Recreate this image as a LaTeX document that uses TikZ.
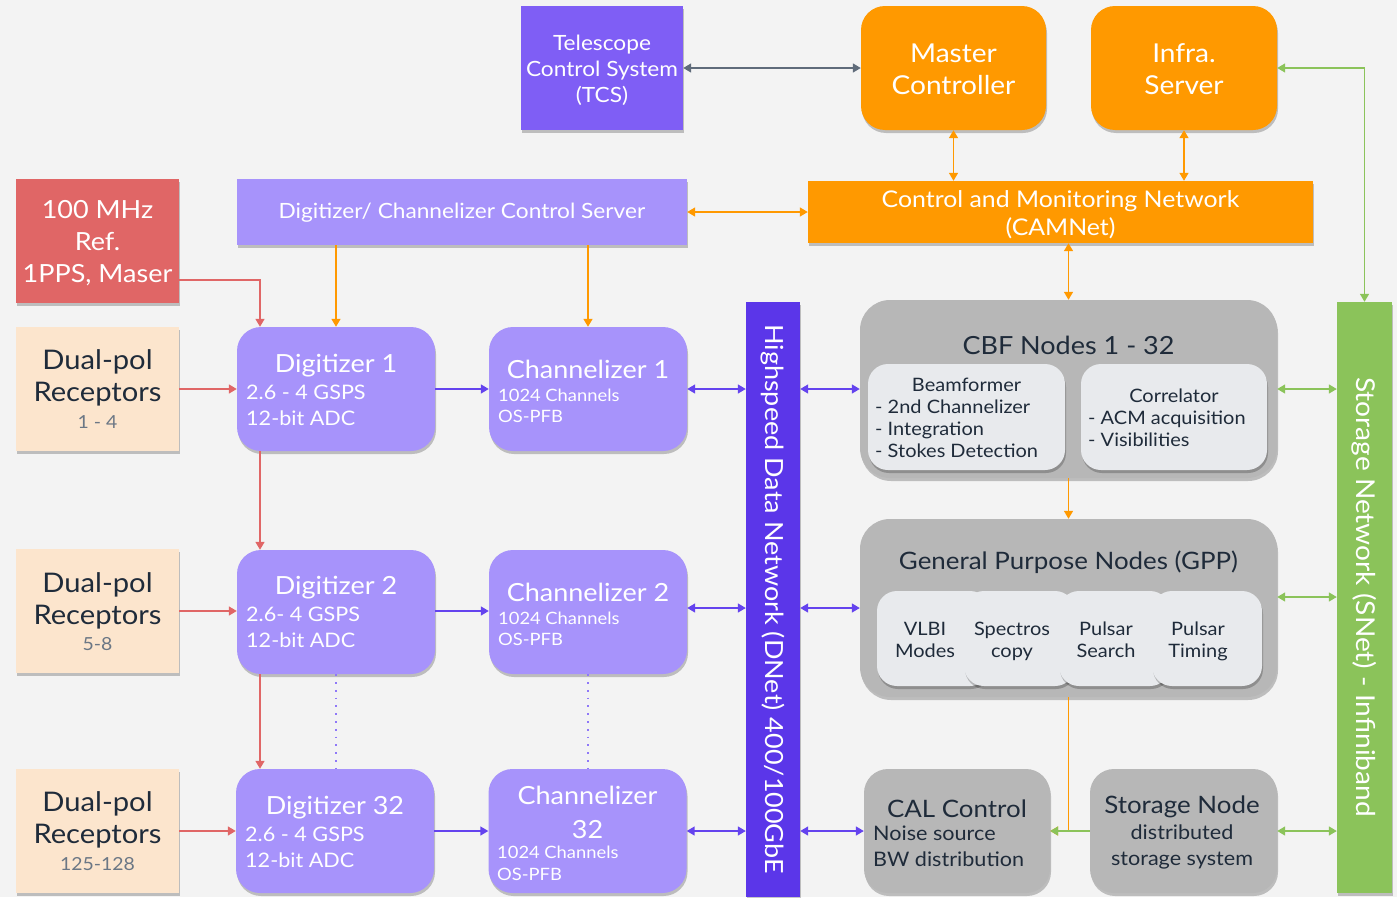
\documentclass[tikz,border=0pt]{standalone}
\usepackage{fontspec}
\setmainfont{Lato}[FakeStretch=1.08]
\usetikzlibrary{arrows.meta,shadows}
\newcommand{\fsz}[2]{\fontsize{#1}{#2}\selectfont}
\definecolor{bgc}{HTML}{F3F3F3}
\definecolor{tcsc}{HTML}{7F5EF5}
\definecolor{lpur}{HTML}{A793FB}
\definecolor{dnetc}{HTML}{5B36E9}
\definecolor{orng}{HTML}{FF9900}
\definecolor{redc}{HTML}{E06666}
\definecolor{peach}{HTML}{FCE5CD}
\definecolor{grayc}{HTML}{B7B7B7}
\definecolor{inner}{HTML}{E8EAED}
\definecolor{grn}{HTML}{8BC35A}
\definecolor{dtext}{HTML}{1F2B3A}
\definecolor{ntext}{HTML}{6B7785}
\definecolor{parr}{HTML}{6443EE}
\definecolor{garr}{HTML}{5F6B7A}
\definecolor{dotc}{HTML}{8F78F8}
\tikzset{
  shad/.style={drop shadow={shadow xshift=1pt,shadow yshift=-3pt,opacity=0.22,fill=black}},
  sqbox/.style={shad,inner sep=0pt,draw=none},
  rbox/.style={shad,inner sep=0pt,draw=none,rounded corners=24pt},
  obox/.style={shad,inner sep=0pt,draw=none,rounded corners=30pt,fill=grayc},
  ibox/.style={shad,inner sep=0pt,draw=none,rounded corners=20pt,fill=inner},
  wt/.style={text=white,inner sep=0pt,align=center},
  dt/.style={text=dtext,inner sep=0pt,align=center},
  wl/.style={text=white,inner sep=0pt,align=left,anchor=north west},
  dl/.style={text=dtext,inner sep=0pt,align=left,anchor=north west},
  tip/.tip={Triangle[length=8pt,width=9pt]},
  arr/.style={-tip,line width=1.5pt},
  darr/.style={tip-tip,line width=1.5pt},
  dotl/.style={dotc,line width=1.8pt,dash pattern=on 1.8pt off 6pt}
}
\begin{document}
\begin{tikzpicture}[x=1pt,y=-1pt]
\fill[bgc] (0,0) rectangle (1397,897);
\useasboundingbox (0,0) rectangle (1397,897);
% top row
\node[sqbox,fill=tcsc,minimum width=162pt,minimum height=124pt] (tcs) at (602,68) {};
\node[wt,font=\fsz{21}{26}] (tcst) at (602,70) {Telescope\\Control System\\(TCS)};
\node[rbox,fill=orng,minimum width=185pt,minimum height=124pt] (mc) at (953.5,68) {};
\node[wt,font=\fsz{26}{32}] (mct) at (953.5,69) {Master\\Controller};
\node[rbox,fill=orng,minimum width=186pt,minimum height=124pt] (inf) at (1184,68) {};
\node[wt,font=\fsz{26}{32}] (inft) at (1184,69) {Infra.\\Server};
% second row
\node[sqbox,fill=redc,minimum width=163pt,minimum height=124pt] (ref) at (97.5,241) {};
\node[wt,font=\fsz{25}{32}] (reft) at (97.5,243) {100 MHz\\Ref.\\1PPS, Maser};
\node[sqbox,fill=lpur,minimum width=450pt,minimum height=66pt] (dcs) at (462,212) {};
\node[wt,font=\fsz{21}{26}] (dcst) at (462,213) {Digitizer/ Channelizer Control Server};
\node[sqbox,fill=orng,minimum width=505pt,minimum height=62pt] (cam) at (1060.5,212) {};
\node[wt,font=\fsz{23}{28}] (camt) at (1060.5,215) {Control and Monitoring Network\\(CAMNet)};
% receptors
\node[sqbox,fill=peach,minimum width=163pt,minimum height=124pt] (rec1) at (97.5,389) {};
\node[dt,font=\fsz{27}{32}] (rec1t) at (97.5,378) {Dual-pol\\Receptors};
\node[text=ntext,inner sep=0pt,font=\fsz{18}{22}] (rec1n) at (97.5,422) {1 - 4};
\node[sqbox,fill=peach,minimum width=163pt,minimum height=124pt] (rec2) at (97.5,611) {};
\node[dt,font=\fsz{27}{32}] (rec2t) at (97.5,601) {Dual-pol\\Receptors};
\node[text=ntext,inner sep=0pt,font=\fsz{18}{22}] (rec2n) at (97.5,644) {5-8};
\node[sqbox,fill=peach,minimum width=163pt,minimum height=124pt] (rec3) at (97.5,831) {};
\node[dt,font=\fsz{27}{32}] (rec3t) at (97.5,820) {Dual-pol\\Receptors};
\node[text=ntext,inner sep=0pt,font=\fsz{18}{22}] (rec3n) at (97.5,864) {125-128};
% digitizers
\node[rbox,fill=lpur,minimum width=198pt,minimum height=124pt] (dig1) at (336,389) {};
\node[wt,font=\fsz{25}{30}] (dig1t) at (336,366) {Digitizer 1};
\node[wl,font=\fsz{20}{26}] (dig1s) at (246,385) {2.6 - 4 GSPS\\12-bit ADC};
\node[rbox,fill=lpur,minimum width=198pt,minimum height=124pt] (dig2) at (336,612) {};
\node[wt,font=\fsz{25}{30}] (dig2t) at (336,588) {Digitizer 2};
\node[wl,font=\fsz{20}{26}] (dig2s) at (246,607) {2.6- 4 GSPS\\12-bit ADC};
\node[rbox,fill=lpur,minimum width=198pt,minimum height=124pt] (dig3) at (335,831) {};
\node[wt,font=\fsz{25}{30}] (dig3t) at (335,808) {Digitizer 32};
\node[wl,font=\fsz{20}{26}] (dig3s) at (245,827) {2.6 - 4 GSPS\\12-bit ADC};
% channelizers
\node[rbox,fill=lpur,minimum width=198pt,minimum height=124pt] (ch1) at (588,389) {};
\node[wt,font=\fsz{25}{30}] (ch1t) at (588,369) {Channelizer 1};
\node[wl,font=\fsz{17}{21}] (ch1s) at (498,389) {1024 Channels\\OS-PFB};
\node[rbox,fill=lpur,minimum width=198pt,minimum height=124pt] (ch2) at (588,612) {};
\node[wt,font=\fsz{25}{30}] (ch2t) at (588,592) {Channelizer 2};
\node[wl,font=\fsz{17}{21}] (ch2s) at (498,612) {1024 Channels\\OS-PFB};
\node[rbox,fill=lpur,minimum width=198pt,minimum height=124pt] (ch3) at (587.5,831) {};
\node[wt,font=\fsz{25}{34}] (ch3t) at (587.5,812) {Channelizer\\32};
\node[wl,font=\fsz{17}{22}] (ch3s) at (497,846) {1024 Channels\\OS-PFB};
% DNet
\node[sqbox,fill=dnetc,minimum width=54pt,minimum height=595pt] (dnet) at (773,599.5) {};
\node[wt,font=\fsz{25}{28},rotate=-90] (dnett) at (773,599) {Highspeed Data Network (DNet) 400/100GbE};
% CBF
\node[obox,minimum width=417pt,minimum height=178pt] (cbf) at (1068.5,389) {};
\node[dt,font=\fsz{25}{28}] (cbft) at (1068.5,345) {CBF Nodes 1 - 32};
\node[ibox,minimum width=197pt,minimum height=106pt] (bf) at (966.5,417) {};
\node[dt,font=\fsz{18.5}{22}] (bft) at (966.5,385) {Beamformer};
\node[dl,font=\fsz{18.5}{22}] (bfs) at (875,400) {- 2nd Channelizer\\- Integration\\- Stokes Detection};
\node[ibox,minimum width=186pt,minimum height=106pt] (cor) at (1174,417) {};
\node[dt,font=\fsz{18.5}{22}] (cort) at (1174,396) {Correlator};
\node[dl,font=\fsz{18.5}{22}] (cors) at (1088,411) {- ACM acquisition\\- Visibilities};
% GPP
\node[obox,minimum width=417pt,minimum height=178pt] (gpp) at (1068.5,608) {};
\node[dt,font=\fsz{24}{28}] (gppt) at (1068.5,562) {General Purpose Nodes (GPP)};
\node[ibox,minimum width=113pt,minimum height=95pt] (vlbi) at (933.5,638.5) {};
\node[ibox,minimum width=111pt,minimum height=95pt] (spec) at (1019.5,638.5) {};
\node[ibox,minimum width=111pt,minimum height=95pt] (psr) at (1114.5,638.5) {};
\node[ibox,minimum width=110pt,minimum height=95pt] (pst) at (1207,638.5) {};
\node[dt,font=\fsz{18.5}{22}] (vlbit) at (925,640) {VLBI\\Modes};
\node[dt,font=\fsz{18.5}{22}] (spect) at (1012,641) {Spectros\\copy};
\node[dt,font=\fsz{18.5}{22}] (psrt) at (1106,640) {Pulsar\\Search};
\node[dt,font=\fsz{18.5}{22}] (pstt) at (1198,641) {Pulsar\\Timing};
% bottom gray
\node[rbox,fill=grayc,minimum width=186pt,minimum height=124pt] (cal) at (957,831) {};
\node[dt,font=\fsz{24}{28}] (calt) at (957,809) {CAL Control};
\node[dl,font=\fsz{20}{26}] (cals) at (873,826) {Noise source\\BW distribution};
\node[rbox,fill=grayc,minimum width=187pt,minimum height=124pt] (stor) at (1183.5,831) {};
\node[dt,font=\fsz{24}{28}] (stort) at (1182,807) {Storage Node};
\node[dt,font=\fsz{20}{26}] (stors) at (1182,847) {distributed\\storage system};
% SNet
\node[sqbox,fill=grn,minimum width=55pt,minimum height=591pt] (snet) at (1364.5,597.5) {};
\node[wt,font=\fsz{26}{28},rotate=-90] (snett) at (1364.5,597) {Storage Network (SNet) - Infiniband};
% connectors
\draw[darr,garr] (tcs.east) -- (mc.west);
\draw[darr,orng] (mc.south) -- (mc.south |- cam.north);
\draw[darr,orng] (inf.south) -- (inf.south |- cam.north);
\draw[darr,orng] (dcs.east) -- (cam.west);
\draw[darr,orng] (cbf.north) -- (cbf.north |- cam.south);
\draw[arr,orng] (dig1.north |- dcs.south) -- (dig1.north);
\draw[arr,orng] (ch1.north |- dcs.south) -- (ch1.north);
\draw[arr,orng] (cbf.south) -- (gpp.north);
\draw[arr,orng] (gpp.south) |- (cal.east);
\draw[darr,grn] (snet.north) |- (inf.east);
\draw[darr,grn] (cbf.east) -- (cbf.east -| snet.west);
\draw[darr,grn] ([yshift=11pt]gpp.east) -- ([yshift=11pt]gpp.east -| snet.west);
\draw[darr,grn] (stor.east) -- (stor.east -| snet.west);
\draw[arr,grn] (stor.west) -- (cal.east);
\draw[arr,redc] ([yshift=-39pt]ref.east) -| ([xshift=-76pt]dig1.north);
\draw[arr,redc] (rec1.east) -- (dig1.west);
\draw[arr,redc] (rec2.east) -- (rec2.east -| dig2.west);
\draw[arr,redc] (rec3.east) -- (dig3.west);
\draw[arr,redc] ([xshift=-76pt]dig1.south) -- ([xshift=-76pt]dig1.south |- dig2.north);
\draw[arr,redc] ([xshift=-76pt]dig2.south) -- ([xshift=-76pt]dig2.south |- dig3.north);
\draw[arr,parr] (dig1.east) -- (ch1.west);
\draw[arr,parr] ([yshift=1pt]dig2.east) -- ([yshift=1pt]ch2.west);
\draw[arr,parr] (dig3.east) -- (ch3.west);
\draw[darr,parr] (ch1.east) -- (ch1.east -| dnet.west);
\draw[darr,parr] (ch2.east |- gpp.west) -- (dnet.west |- gpp.west);
\draw[darr,parr] (ch3.east) -- (ch3.east -| dnet.west);
\draw[darr,parr] (dnet.east |- cbf.west) -- (cbf.west);
\draw[darr,parr] (dnet.east |- gpp.west) -- (gpp.west);
\draw[darr,parr] (dnet.east |- cal.west) -- (cal.west);
\draw[dotl] (dig2.south) -- (dig2.south |- dig3.north);
\draw[dotl] (ch2.south) -- (ch2.south |- ch3.north);
\end{tikzpicture}
\end{document}
